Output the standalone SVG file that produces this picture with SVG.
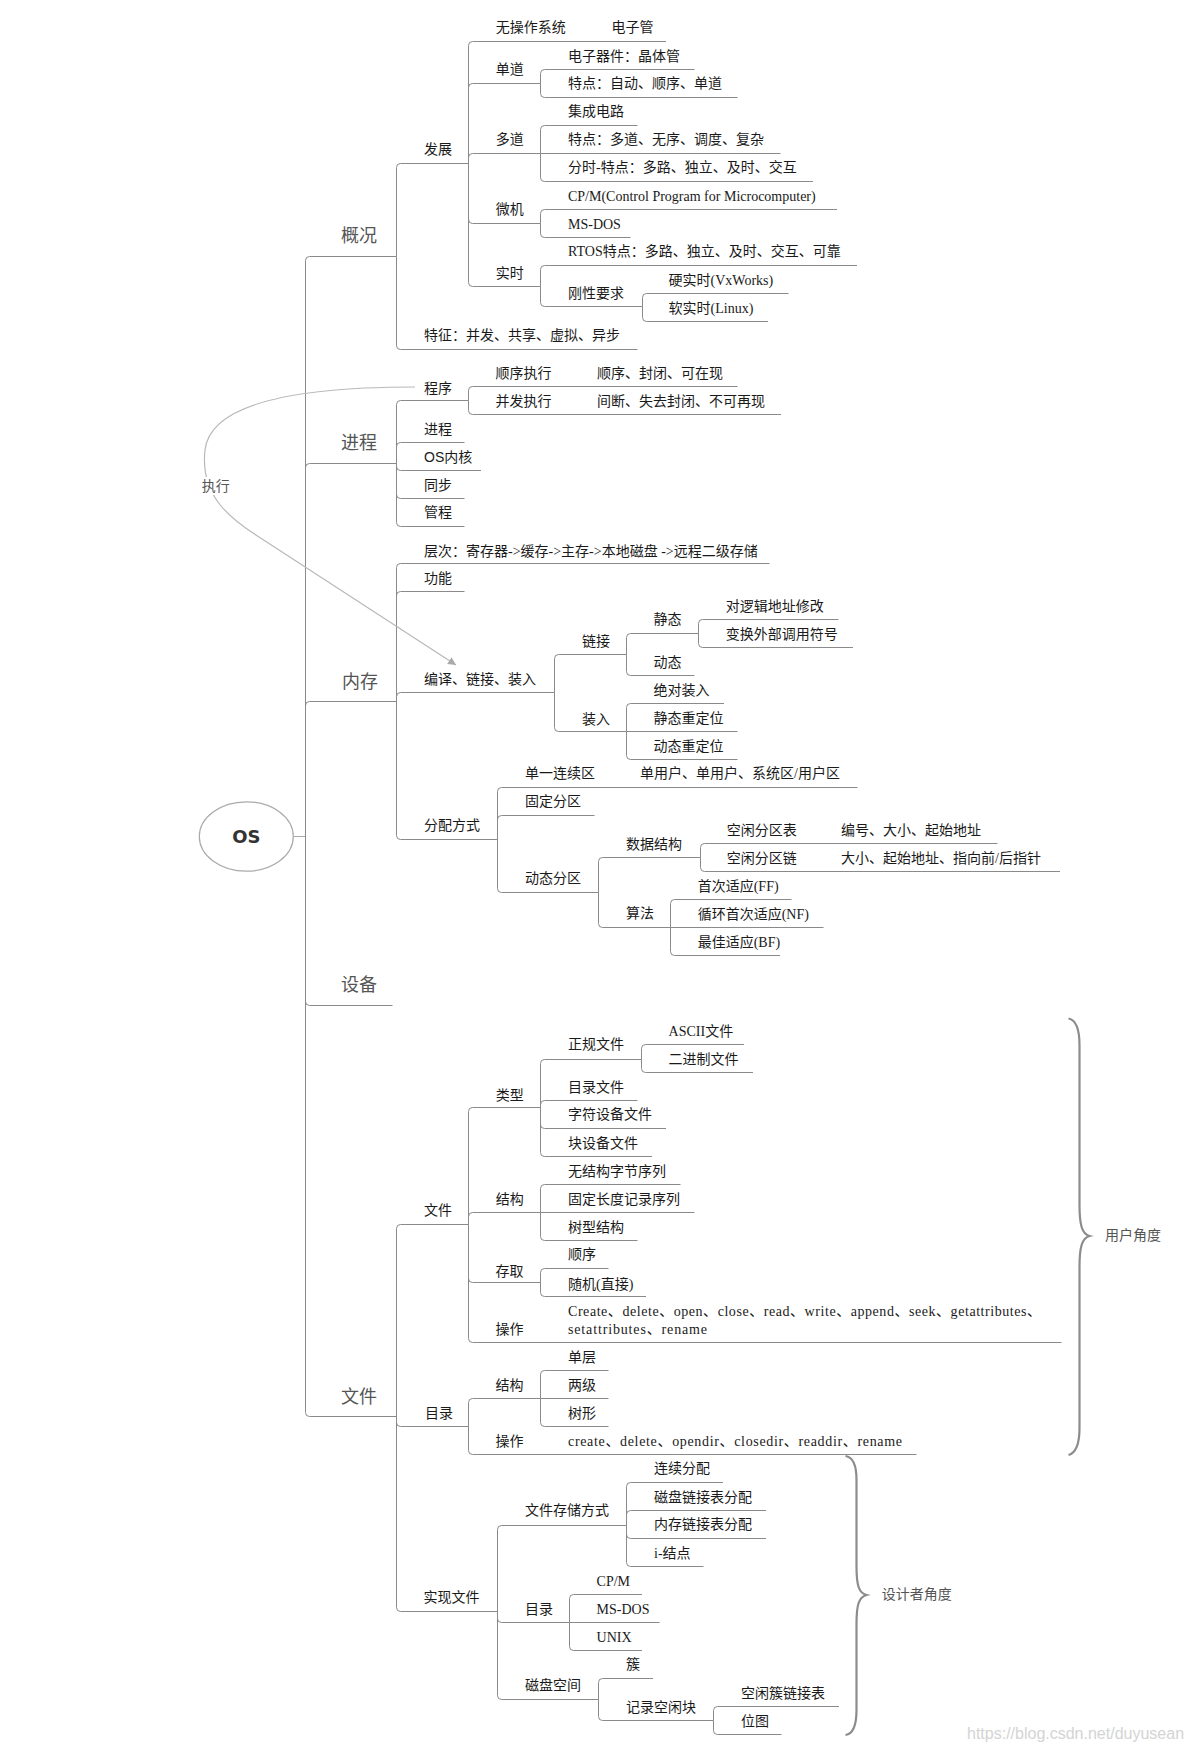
<svg xmlns="http://www.w3.org/2000/svg" width="1190" height="1752" viewBox="0 0 1190 1752">
<defs>
<style>
.t{font-family:"Liberation Serif","Noto Sans CJK SC",serif;font-size:14px;fill:#1a1a1a}
.ts{font-family:"Liberation Sans","Noto Sans CJK SC",sans-serif;font-size:14px;fill:#1a1a1a}
.top{font-family:"Noto Sans CJK SC",sans-serif;font-size:18px;fill:#555}
.lbl{font-family:"Noto Sans CJK SC",sans-serif;font-size:14px;fill:#555}
.wm{font-family:"Liberation Sans",sans-serif;font-size:16px;fill:#d4d4d4}
#connectors path{fill:none;stroke:#8a8a8a;stroke-width:1}
#connectors .rel{stroke:#b8b8b8;stroke-width:1.2}
#connectors .brace{stroke:#8c8c8c;stroke-width:2.2}
#connectors .rootlink{stroke:#aaa}
</style>
<marker id="arr" markerWidth="10" markerHeight="10" refX="8" refY="4" orient="auto" markerUnits="userSpaceOnUse"><path d="M0,0 L8,4 L0,8 z" fill="#aaa"/></marker>
</defs>
<rect width="1190" height="1752" fill="#fff"/>
<g id="connectors">
<path class="rootlink" d="M293.3 836.5 H305.5"/>
<path d="M305.5 836.5 V260.5 Q305.5 256.5 309.5 256.5 H396.5"/>
<path d="M305.5 836.5 V467.5 Q305.5 463.5 309.5 463.5 H396.5"/>
<path d="M305.5 836.5 V705.5 Q305.5 701.5 309.5 701.5 H396.5"/>
<path d="M305.5 836.5 V1001.5 Q305.5 1005.5 309.5 1005.5 H392.5"/>
<path d="M305.5 836.5 V1412.5 Q305.5 1416.5 309.5 1416.5 H397"/>
<path d="M396.5 256.5 V167.5 Q396.5 163.5 400.5 163.5 H468.5"/>
<path d="M396.5 256.5 V345.5 Q396.5 349.5 400.5 349.5 H637.5"/>
<path d="M468.5 163.5 V45.5 Q468.5 41.5 472.5 41.5 H666"/>
<path d="M468.5 163.5 V87.5 Q468.5 83.5 472.5 83.5 H540.5"/>
<path d="M468.5 163.5 V157.5 Q468.5 153.5 472.5 153.5 H540.5"/>
<path d="M468.5 163.5 V219.5 Q468.5 223.5 472.5 223.5 H540.5"/>
<path d="M468.5 163.5 V282.5 Q468.5 286.5 472.5 286.5 H540.5"/>
<path d="M540.5 83.5 V73.5 Q540.5 69.5 544.5 69.5 H694.5"/>
<path d="M540.5 83.5 V93.5 Q540.5 97.5 544.5 97.5 H737.5"/>
<path d="M540.5 153.5 V129.5 Q540.5 125.5 544.5 125.5 H637.5"/>
<path d="M540.5 153.5 H780.5"/>
<path d="M540.5 153.5 V177.5 Q540.5 181.5 544.5 181.5 H813"/>
<path d="M540.5 223.5 V213.5 Q540.5 209.5 544.5 209.5 H837"/>
<path d="M540.5 223.5 V233.5 Q540.5 237.5 544.5 237.5 H630.5"/>
<path d="M540.5 286.5 V269.5 Q540.5 265.5 544.5 265.5 H857"/>
<path d="M540.5 286.5 V302.5 Q540.5 306.5 544.5 306.5 H642.5"/>
<path d="M642.5 306.5 V297.5 Q642.5 293.5 646.5 293.5 H788.5"/>
<path d="M642.5 306.5 V317.5 Q642.5 321.5 646.5 321.5 H768"/>
<path d="M396.5 463.5 V404.5 Q396.5 400.5 400.5 400.5 H468.5"/>
<path d="M396.5 463.5 V446.5 Q396.5 442.5 400.5 442.5 H464.5"/>
<path d="M396.5 463.5 V466.5 Q396.5 470.5 400.5 470.5 H481"/>
<path d="M396.5 463.5 V494.5 Q396.5 498.5 400.5 498.5 H464.5"/>
<path d="M396.5 463.5 V522.5 Q396.5 526.5 400.5 526.5 H464.5"/>
<path d="M468.5 400.5 V390.5 Q468.5 386.5 472.5 386.5 H737.5"/>
<path d="M468.5 400.5 V410.5 Q468.5 414.5 472.5 414.5 H781"/>
<path d="M396.5 701.5 V567.5 Q396.5 563.5 400.5 563.5 H769.5"/>
<path d="M396.5 701.5 V595.5 Q396.5 591.5 400.5 591.5 H464.5"/>
<path d="M396.5 701.5 V696.5 Q396.5 692.5 400.5 692.5 H554.5"/>
<path d="M396.5 701.5 V835.5 Q396.5 839.5 400.5 839.5 H497.5"/>
<path d="M554.5 692.5 V658.5 Q554.5 654.5 558.5 654.5 H626.5"/>
<path d="M554.5 692.5 V727.5 Q554.5 731.5 558.5 731.5 H626.5"/>
<path d="M626.5 654.5 V637.5 Q626.5 633.5 630.5 633.5 H698.5"/>
<path d="M626.5 654.5 V671.5 Q626.5 675.5 630.5 675.5 H694.5"/>
<path d="M698.5 633.5 V623.5 Q698.5 619.5 702.5 619.5 H838.5"/>
<path d="M698.5 633.5 V643.5 Q698.5 647.5 702.5 647.5 H853"/>
<path d="M626.5 731.5 V707.5 Q626.5 703.5 630.5 703.5 H724"/>
<path d="M626.5 731.5 H737.5"/>
<path d="M626.5 731.5 V755.5 Q626.5 759.5 630.5 759.5 H737.5"/>
<path d="M497.5 839.5 V791.5 Q497.5 787.5 501.5 787.5 H857.5"/>
<path d="M497.5 839.5 V819.5 Q497.5 815.5 501.5 815.5 H594.5"/>
<path d="M497.5 839.5 V888.5 Q497.5 892.5 501.5 892.5 H598.5"/>
<path d="M598.5 892.5 V861.5 Q598.5 857.5 602.5 857.5 H700.5"/>
<path d="M598.5 892.5 V923.5 Q598.5 927.5 602.5 927.5 H670.5"/>
<path d="M700.5 857.5 V847.5 Q700.5 843.5 704.5 843.5 H997.5"/>
<path d="M700.5 857.5 V867.5 Q700.5 871.5 704.5 871.5 H1060"/>
<path d="M670.5 927.5 V903.5 Q670.5 899.5 674.5 899.5 H791.5"/>
<path d="M670.5 927.5 H823.5"/>
<path d="M670.5 927.5 V951.5 Q670.5 955.5 674.5 955.5 H780"/>
<path d="M396.5 1416.5 V1228.5 Q396.5 1224.5 400.5 1224.5 H468.5"/>
<path d="M396.5 1416.5 V1422.5 Q396.5 1426.5 400.5 1426.5 H468.5"/>
<path d="M396.5 1416.5 V1607.5 Q396.5 1611.5 400.5 1611.5 H497.5"/>
<path d="M468.5 1224.5 V1111.5 Q468.5 1107.5 472.5 1107.5 H540.5"/>
<path d="M468.5 1224.5 V1216.5 Q468.5 1212.5 472.5 1212.5 H540.5"/>
<path d="M468.5 1224.5 V1278.5 Q468.5 1282.5 472.5 1282.5 H540.5"/>
<path d="M468.5 1224.5 V1338.5 Q468.5 1342.5 472.5 1342.5 H1061.5"/>
<path d="M540.5 1107.5 V1063.5 Q540.5 1059.5 544.5 1059.5 H641.5"/>
<path d="M540.5 1107.5 V1104.5 Q540.5 1100.5 544.5 1100.5 H637.5"/>
<path d="M540.5 1107.5 V1124.5 Q540.5 1128.5 544.5 1128.5 H666"/>
<path d="M540.5 1107.5 V1152.5 Q540.5 1156.5 544.5 1156.5 H652"/>
<path d="M641.5 1059.5 V1048.5 Q641.5 1044.5 645.5 1044.5 H744"/>
<path d="M641.5 1059.5 V1068.5 Q641.5 1072.5 645.5 1072.5 H753"/>
<path d="M540.5 1212.5 V1188.5 Q540.5 1184.5 544.5 1184.5 H680.5"/>
<path d="M540.5 1212.5 H694.5"/>
<path d="M540.5 1212.5 V1236.5 Q540.5 1240.5 544.5 1240.5 H637.5"/>
<path d="M540.5 1282.5 V1272.5 Q540.5 1268.5 544.5 1268.5 H608.5"/>
<path d="M540.5 1282.5 V1292.5 Q540.5 1296.5 544.5 1296.5 H646"/>
<path d="M468.5 1426.5 V1402.5 Q468.5 1398.5 472.5 1398.5 H540.5"/>
<path d="M468.5 1426.5 V1450.5 Q468.5 1454.5 472.5 1454.5 H916.5"/>
<path d="M540.5 1398.5 V1374.5 Q540.5 1370.5 544.5 1370.5 H608.5"/>
<path d="M540.5 1398.5 H608.5"/>
<path d="M540.5 1398.5 V1422.5 Q540.5 1426.5 544.5 1426.5 H608.5"/>
<path d="M497.5 1611.5 V1529.5 Q497.5 1525.5 501.5 1525.5 H626.5"/>
<path d="M497.5 1611.5 V1618.5 Q497.5 1622.5 501.5 1622.5 H569.5"/>
<path d="M497.5 1611.5 V1695.5 Q497.5 1699.5 501.5 1699.5 H598.5"/>
<path d="M626.5 1525.5 V1486.5 Q626.5 1482.5 630.5 1482.5 H723"/>
<path d="M626.5 1525.5 V1514.5 Q626.5 1510.5 630.5 1510.5 H766"/>
<path d="M626.5 1525.5 V1534.5 Q626.5 1538.5 630.5 1538.5 H766"/>
<path d="M626.5 1525.5 V1562.5 Q626.5 1566.5 630.5 1566.5 H703.5"/>
<path d="M569.5 1622.5 V1598.5 Q569.5 1594.5 573.5 1594.5 H642"/>
<path d="M569.5 1622.5 H659.5"/>
<path d="M569.5 1622.5 V1646.5 Q569.5 1650.5 573.5 1650.5 H642"/>
<path d="M598.5 1699.5 V1682.5 Q598.5 1678.5 602.5 1678.5 H653"/>
<path d="M598.5 1699.5 V1716.5 Q598.5 1720.5 602.5 1720.5 H713.5"/>
<path d="M713.5 1720.5 V1710.5 Q713.5 1706.5 717.5 1706.5 H839"/>
<path d="M713.5 1720.5 V1730.5 Q713.5 1734.5 717.5 1734.5 H781.5"/>
<path class="rel" d="M415 387 C290 387 210 405 205 450 C200 495 229 518 259 537 L456 665" marker-end="url(#arr)"/>
<path class="brace" d="M1068.5 1018.5 C1076 1020 1079.5 1028 1079.5 1045 L1079.5 1205 C1079.5 1225 1082 1234 1089.5 1236 C1082 1238 1079.5 1247 1079.5 1267 L1079.5 1428 C1079.5 1445 1076 1453 1068.5 1455"/>
<path class="brace" d="M845.5 1456 C853 1457 856.5 1465 856.5 1480 L856.5 1566 C856.5 1586 859 1593 866.5 1595 C859 1597 856.5 1604 856.5 1624 L856.5 1710 C856.5 1726 853 1734 845.5 1735"/>
</g>
<g id="rel-label"><rect x="199" y="477" width="32" height="18" fill="#fff"/><text class="lbl" x="201.7" y="491">执行</text></g>
<g id="root"><ellipse cx="246.3" cy="836.5" rx="47" ry="34.7" fill="#fff" stroke="#aaa" stroke-width="1.2"/><text x="246.3" y="843" text-anchor="middle" style="font-family:'DejaVu Sans',sans-serif;font-weight:bold;font-size:18px;fill:#333">OS</text></g>
<g id="nodes" transform="translate(0,-1)">
<g id="n-gaikuang"><text class="top" x="341" y="243">概况</text></g>
<g id="n-fazhan"><text class="t" x="424" y="155.3">发展</text></g>
<g id="n-wucz"><text class="t" x="495.7" y="33">无操作系统</text></g>
<g id="n-dzg"><text class="t" x="611.4" y="33">电子管</text></g>
<g id="n-dandao"><text class="t" x="495.7" y="75.3">单道</text></g>
<g id="n-dzqj"><text class="t" x="568" y="62">电子器件：晶体管</text></g>
<g id="n-td1"><text class="t" x="568" y="89.3">特点：自动、顺序、单道</text></g>
<g id="n-duodao"><text class="t" x="495.7" y="145.3">多道</text></g>
<g id="n-jcdl"><text class="t" x="568" y="117.3">集成电路</text></g>
<g id="n-td2"><text class="t" x="568" y="145.3">特点：多道、无序、调度、复杂</text></g>
<g id="n-fs"><text class="t" x="568" y="173.3">分时-特点：多路、独立、及时、交互</text></g>
<g id="n-weiji"><text class="t" x="495.7" y="215.3">微机</text></g>
<g id="n-cpm1"><text class="t" x="568" y="202">CP/M(Control Program for Microcomputer)</text></g>
<g id="n-msdos1"><text class="t" x="568" y="229.6">MS-DOS</text></g>
<g id="n-shishi"><text class="t" x="495.7" y="278.6">实时</text></g>
<g id="n-rtos"><text class="t" x="568" y="257.3">RTOS特点：多路、独立、及时、交互、可靠</text></g>
<g id="n-gxyq"><text class="t" x="568" y="299.3">刚性要求</text></g>
<g id="n-yss"><text class="t" x="668.6" y="286">硬实时(VxWorks)</text></g>
<g id="n-rss"><text class="t" x="668.6" y="313.6">软实时(Linux)</text></g>
<g id="n-tezheng"><text class="t" x="424" y="341.3">特征：并发、共享、虚拟、异步</text></g>
<g id="n-jincheng"><text class="top" x="341" y="450">进程</text></g>
<g id="n-chengxu"><text class="t" x="424" y="393.6">程序</text></g>
<g id="n-sxzx"><text class="t" x="495.5" y="378.6">顺序执行</text></g>
<g id="n-sxzx2"><text class="t" x="597" y="378.6">顺序、封闭、可在现</text></g>
<g id="n-bfzx"><text class="t" x="495.5" y="407">并发执行</text></g>
<g id="n-bfzx2"><text class="t" x="597" y="407">间断、失去封闭、不可再现</text></g>
<g id="n-jc2"><text class="t" x="424" y="434.6">进程</text></g>
<g id="n-osnh"><text class="ts" x="424" y="462.6">OS内核</text></g>
<g id="n-tongbu"><text class="t" x="424" y="491">同步</text></g>
<g id="n-guancheng"><text class="t" x="424" y="518">管程</text></g>
<g id="n-neicun"><text class="top" x="342" y="688.5">内存</text></g>
<g id="n-cengci"><text class="t" x="424" y="557">层次：寄存器-&gt;缓存-&gt;主存-&gt;本地磁盘 -&gt;远程二级存储</text></g>
<g id="n-gongneng"><text class="t" x="424" y="583.6">功能</text></g>
<g id="n-bylj"><text class="t" x="424" y="685.3">编译、链接、装入</text></g>
<g id="n-lianjie"><text class="t" x="582" y="647">链接</text></g>
<g id="n-jingtai"><text class="t" x="653.6" y="625.3">静态</text></g>
<g id="n-dljdz"><text class="t" x="725.7" y="612">对逻辑地址修改</text></g>
<g id="n-bhwb"><text class="t" x="725.7" y="639.6">变换外部调用符号</text></g>
<g id="n-dongtai"><text class="t" x="653.6" y="667.6">动态</text></g>
<g id="n-zhuangru"><text class="t" x="582" y="724.6">装入</text></g>
<g id="n-jdzr"><text class="t" x="653.6" y="696">绝对装入</text></g>
<g id="n-jtcdw"><text class="t" x="653.6" y="724">静态重定位</text></g>
<g id="n-dtcdw"><text class="t" x="653.6" y="752">动态重定位</text></g>
<g id="n-fpfs"><text class="t" x="424" y="831.3">分配方式</text></g>
<g id="n-dylxq"><text class="t" x="525" y="779.3">单一连续区</text></g>
<g id="n-dyh"><text class="t" x="640" y="779.3">单用户、单用户、系统区/用户区</text></g>
<g id="n-gdfq"><text class="t" x="525" y="807">固定分区</text></g>
<g id="n-dtfq"><text class="t" x="525" y="884.3">动态分区</text></g>
<g id="n-sjjg"><text class="t" x="626" y="849.6">数据结构</text></g>
<g id="n-kxfqb"><text class="t" x="726.7" y="836">空闲分区表</text></g>
<g id="n-bh"><text class="t" x="841" y="836">编号、大小、起始地址</text></g>
<g id="n-kxfql"><text class="t" x="726.7" y="863.6">空闲分区链</text></g>
<g id="n-dx"><text class="t" x="841" y="863.6">大小、起始地址、指向前/后指针</text></g>
<g id="n-suanfa"><text class="t" x="626" y="918.6">算法</text></g>
<g id="n-ff"><text class="t" x="697.7" y="892.3">首次适应(FF)</text></g>
<g id="n-nf"><text class="t" x="697.7" y="920.3">循环首次适应(NF)</text></g>
<g id="n-bf"><text class="t" x="697.7" y="948">最佳适应(BF)</text></g>
<g id="n-shebei"><text class="top" x="341" y="992">设备</text></g>
<g id="n-wenjian"><text class="top" x="341" y="1403.5">文件</text></g>
<g id="n-wj2"><text class="t" x="424" y="1216">文件</text></g>
<g id="n-leixing"><text class="t" x="495.7" y="1101.3">类型</text></g>
<g id="n-zgwj"><text class="t" x="568" y="1050.3">正规文件</text></g>
<g id="n-ascii"><text class="t" x="668.6" y="1037">ASCII文件</text></g>
<g id="n-ejz"><text class="t" x="668.6" y="1064.6">二进制文件</text></g>
<g id="n-mlwj"><text class="t" x="568" y="1092.6">目录文件</text></g>
<g id="n-zfsb"><text class="t" x="568" y="1120.3">字符设备文件</text></g>
<g id="n-ksb"><text class="t" x="568" y="1148.6">块设备文件</text></g>
<g id="n-jiegou1"><text class="t" x="495.7" y="1204.6">结构</text></g>
<g id="n-wjg"><text class="t" x="568" y="1177">无结构字节序列</text></g>
<g id="n-gdcd"><text class="t" x="568" y="1204.6">固定长度记录序列</text></g>
<g id="n-sxjg"><text class="t" x="568" y="1233">树型结构</text></g>
<g id="n-cunqu"><text class="t" x="495.5" y="1277">存取</text></g>
<g id="n-shunxu"><text class="t" x="568" y="1260.3">顺序</text></g>
<g id="n-suiji"><text class="t" x="568" y="1289.6">随机(直接)</text></g>
<g id="n-caozuo1"><text class="t" x="495.5" y="1335.3">操作</text></g>
<g id="n-ops1"><text class="t" x="568" y="1317" textLength="473" lengthAdjust="spacing">Create、delete、open、close、read、write、append、seek、getattributes、</text><text class="t" x="568" y="1335" textLength="139" lengthAdjust="spacing">setattributes、rename</text></g>
<g id="n-mulu1"><text class="t" x="425" y="1418.6">目录</text></g>
<g id="n-jiegou2"><text class="t" x="495.5" y="1391">结构</text></g>
<g id="n-dancheng"><text class="t" x="568" y="1362.6">单层</text></g>
<g id="n-liangji"><text class="t" x="568" y="1391">两级</text></g>
<g id="n-shuxing"><text class="t" x="568" y="1418.6">树形</text></g>
<g id="n-caozuo2"><text class="t" x="495.5" y="1447">操作</text></g>
<g id="n-ops2"><text class="t" x="568" y="1447" textLength="334" lengthAdjust="spacing">create、delete、opendir、closedir、readdir、rename</text></g>
<g id="n-sxwj"><text class="t" x="423.6" y="1603">实现文件</text></g>
<g id="n-wjccfs"><text class="t" x="525" y="1516.3">文件存储方式</text></g>
<g id="n-lxfp"><text class="t" x="654" y="1474.3">连续分配</text></g>
<g id="n-cpljb"><text class="t" x="654" y="1502.6">磁盘链接表分配</text></g>
<g id="n-ncljb"><text class="t" x="654" y="1530.3">内存链接表分配</text></g>
<g id="n-ijd"><text class="t" x="654" y="1558.6">i-结点</text></g>
<g id="n-mulu2"><text class="t" x="525" y="1614.6">目录</text></g>
<g id="n-cpm2"><text class="t" x="596.6" y="1587">CP/M</text></g>
<g id="n-msdos2"><text class="t" x="596.6" y="1614.6">MS-DOS</text></g>
<g id="n-unix"><text class="t" x="596.6" y="1642.6">UNIX</text></g>
<g id="n-cpkj"><text class="t" x="525" y="1691.3">磁盘空间</text></g>
<g id="n-cu"><text class="t" x="626" y="1670.3">簇</text></g>
<g id="n-jlkxk"><text class="t" x="626" y="1712.6">记录空闲块</text></g>
<g id="n-kxcljb"><text class="t" x="741" y="1698.6">空闲簇链接表</text></g>
<g id="n-weitu"><text class="t" x="741" y="1727">位图</text></g>
<g id="b-user"><text class="lbl" x="1105" y="1241.3">用户角度</text></g>
<g id="b-design"><text class="lbl" x="881.7" y="1599.6">设计者角度</text></g>
</g>
<text class="wm" x="967" y="1739">https://blog.csdn.net/duyusean</text>
</svg>
